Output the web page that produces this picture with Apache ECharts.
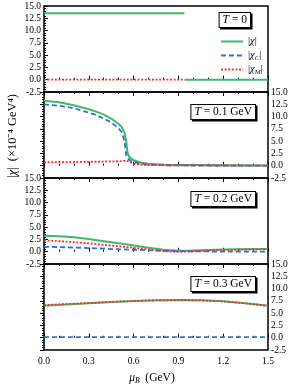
<!DOCTYPE html>
<html><head><meta charset="utf-8">
<script src="https://cdn.jsdelivr.net/npm/echarts@6/dist/echarts.min.js"></script>
<style>html,body{margin:0;padding:0;background:#fff}#c{width:291px;height:387px}</style>
</head><body><div id="c"></div>
<script>
// ---- data ----
var panelLabels = ['0', '0.1 GeV', '0.2 GeV', '0.3 GeV'];
var xTicks = [0, 0.3, 0.6, 0.9, 1.2, 1.5];
var yTicks = [-2.5, 0, 2.5, 5, 7.5, 10, 12.5, 15];

var muT0   = [0, 0.94, 0.94, 0.94, 1.5];
var chiT0  = [13.5, 13.5, null, 0, 0];
var muT0M  = [0, 0.94];
var chiMT0 = [0, 0];

var mu1   = [0, 0.1, 0.2, 0.3, 0.35, 0.4, 0.45, 0.5, 0.52, 0.54, 0.55, 0.56, 0.57, 0.58, 0.6, 0.65, 0.7, 0.8, 0.9, 1.0, 1.2, 1.5];
var chi1  = [13.2, 12.9, 12.3, 11.5, 11.0, 10.4, 9.6, 8.5, 7.9, 6.6, 5.0, 2.6, 1.8, 1.5, 1.1, 0.6, 0.38, 0.22, 0.15, 0.12, 0.08, 0.05];
var chiC1 = [12.5, 12.2, 11.7, 10.8, 10.3, 9.6, 8.8, 7.6, 6.8, 5.0, 2.2, 1.5, 1.2, 1.0, 0.75, 0.4, 0.22, 0.1, 0.06, 0.04, 0.02, 0.01];
var chiM1 = [0.7, 0.72, 0.75, 0.8, 0.82, 0.85, 0.88, 0.92, 0.95, 0.98, 1.0, 0.95, 0.8, 0.65, 0.4, 0.2, 0.15, 0.1, 0.08, 0.06, 0.04, 0.03];

var mu2   = [0, 0.1, 0.2, 0.3, 0.4, 0.5, 0.6, 0.7, 0.8, 0.9, 1.0, 1.1, 1.2, 1.3, 1.4, 1.5];
var chi2  = [3.25, 3.15, 2.95, 2.6, 2.15, 1.7, 1.25, 0.8, 0.4, 0.2, 0.25, 0.35, 0.45, 0.5, 0.55, 0.55];
var chiC2 = [1.0, 0.95, 0.85, 0.75, 0.62, 0.5, 0.4, 0.3, 0.2, 0.12, 0.08, 0.05, 0.03, 0.02, 0.01, 0.0];
var chiM2 = [2.3, 2.15, 1.95, 1.7, 1.4, 1.1, 0.8, 0.45, 0.1, -0.05, 0.1, 0.25, 0.35, 0.4, 0.45, 0.5];

var mu3   = [0, 0.15, 0.3, 0.45, 0.6, 0.75, 0.9, 1.05, 1.2, 1.35, 1.5];
var chi3  = [6.5, 6.75, 7.0, 7.25, 7.45, 7.6, 7.65, 7.6, 7.4, 7.0, 6.5];
var chiC3 = [0.1, 0.1, 0.1, 0.1, 0.1, 0.1, 0.1, 0.1, 0.1, 0.1, 0.1];
var chiM3 = [6.65, 6.85, 7.05, 7.28, 7.47, 7.6, 7.65, 7.6, 7.4, 7.0, 6.5];

// ---- chart ----
var FONT = 'Liberation Serif';
var GREEN = '#3dba6a', BLUE = '#2f6fdc', RED = '#ff2a2a';
var tops = [6, 92, 178, 264], H = 86, L = 44, R = 23;

function pairs(xs, ys) { return xs.map(function (x, i) { return [x, ys[i] === null ? '-' : ys[i]]; }); }

var grids = [], xAxes = [], yAxes = [], series = [], graphics = [];
for (var i = 0; i < 4; i++) {
  grids.push({ left: L, right: R, top: tops[i], height: H, show: true, borderColor: '#000', borderWidth: 1.5, backgroundColor: 'transparent', containLabel: false });
  xAxes.push({
    type: 'value', gridIndex: i, min: 0, max: 1.5, interval: 0.3, position: 'bottom',
    axisLine: { show: false },
    axisTick: { show: true, inside: true, length: 4, lineStyle: { color: '#000', width: 1 } },
    minorTick: { show: true, splitNumber: 3, length: 2, lineStyle: { color: '#000', width: 1 } },
    splitLine: { show: false },
    axisLabel: { show: i === 3, color: '#000', fontFamily: FONT, fontSize: 9.5, margin: 6,
      formatter: function (v) { return v.toFixed(1); } }
  });
  yAxes.push({
    type: 'value', gridIndex: i, min: yTicks[0], max: yTicks[yTicks.length - 1], interval: 2.5,
    position: (i % 2 === 0) ? 'left' : 'right',
    axisLine: { show: false },
    axisTick: { show: true, inside: true, length: 4, lineStyle: { color: '#000', width: 1 } },
    minorTick: { show: true, splitNumber: 5, length: 2, lineStyle: { color: '#000', width: 1 } },
    splitLine: { show: false },
    axisLabel: { color: '#000', fontFamily: FONT, fontSize: 9.5, margin: 3,
      formatter: function (v) { return v.toFixed(1); } }
  });
}
// top tick axes for panels 2-4
for (var j = 1; j < 4; j++) {
  xAxes.push({
    type: 'value', gridIndex: j, min: 0, max: 1.5, interval: 0.3, position: 'top',
    axisLine: { show: false },
    axisTick: { show: true, inside: true, length: 4, lineStyle: { color: '#000', width: 1 } },
    minorTick: { show: true, splitNumber: 3, length: 2, lineStyle: { color: '#000', width: 1 } },
    splitLine: { show: false }, axisLabel: { show: false }
  });
}

var names = ['|χ|', '|χC|', '|χM|'];
function mk(name, idx, data, kind, z) {
  var ls = kind === 0 ? { color: GREEN, width: 2, type: 'solid' }
         : kind === 1 ? { color: BLUE, width: 1.8, type: [5, 3] }
         : { color: RED, width: 1.8, type: [2, 1.6] };
  return { name: name, type: 'line', xAxisIndex: idx, yAxisIndex: idx, data: data, showSymbol: false, symbol: 'none',
    lineStyle: ls, itemStyle: { color: ls.color }, z: z, animation: false, connectNulls: false };
}
// panel 1 (T=0)
series.push(mk(names[0], 0, pairs(muT0, chiT0), 0, 3));
series.push(mk(names[1], 0, [], 1, 1));
series.push(mk(names[2], 0, pairs(muT0M, chiMT0), 2, 2));
// panels 2-4
var sets = [[mu1, chi1, chiC1, chiM1], [mu2, chi2, chiC2, chiM2], [mu3, chi3, chiC3, chiM3]];
sets.forEach(function (s, k) {
  series.push(mk(names[0], k + 1, pairs(s[0], s[1]), 0, 2));
  series.push(mk(names[1], k + 1, pairs(s[0], s[2]), 1, 3));
  series.push(mk(names[2], k + 1, pairs(s[0], s[3]), 2, 4));
});

// boxed temperature labels
var boxY = [13, 105, 192, 277];
var boxX = [250, 255, 255, 255];
for (var b = 0; b < 4; b++) {
  graphics.push({
    type: 'text', x: boxX[b], y: boxY[b], z: 50,
    style: {
      text: '{i|T} = ' + panelLabels[b],
      rich: { i: { fontStyle: 'italic', fontFamily: FONT, fontSize: 11.5, fill: '#000' } },
      font: '11.5px "Liberation Serif"', fill: '#000', align: 'right', verticalAlign: 'top',
      backgroundColor: '#fff', borderColor: '#000', borderWidth: 1, padding: [1, 3, 1, 3],
      shadowColor: '#000', shadowOffsetX: 1.5, shadowOffsetY: 1.5, shadowBlur: 0
    }
  });
}
// y-axis title
graphics.push({
  type: 'text', x: 13, y: 136, rotation: Math.PI / 2, z: 50,
  style: {
    text: '|{i|χ}|  (×10⁻⁴ GeV⁴)',
    rich: { i: { fontStyle: 'italic', fontFamily: FONT, fontSize: 12.5, fill: '#000' } },
    font: '12.5px "Liberation Serif"', fill: '#000', align: 'center', verticalAlign: 'middle'
  }
});
// x-axis title
graphics.push({
  type: 'text', x: 152, y: 378, z: 50,
  style: {
    text: '{i|μ}{s|B}{n|  (GeV)}',
    rich: {
      i: { fontStyle: 'italic', fontFamily: FONT, fontSize: 11.5, fill: '#000', lineHeight: 15, verticalAlign: 'middle' },
      s: { fontStyle: 'italic', fontFamily: FONT, fontSize: 7.5, fill: '#000', lineHeight: 15, verticalAlign: 'bottom' },
      n: { fontFamily: FONT, fontSize: 11.5, fill: '#000', lineHeight: 15, verticalAlign: 'middle' }
    },
    align: 'center', verticalAlign: 'middle'
  }
});

var chart = echarts.init(document.getElementById('c'), null, { renderer: 'canvas' });
chart.setOption({
  animation: false,
  backgroundColor: '#fff',
  grid: grids, xAxis: xAxes, yAxis: yAxes, series: series,
  legend: {
    data: names, orient: 'vertical', left: 220, top: 35, itemWidth: 22, itemHeight: 8, itemGap: 1, padding: 0,
    selectedMode: false,
    itemStyle: { color: 'rgba(0,0,0,0)', borderColor: 'rgba(0,0,0,0)', borderWidth: 0, opacity: 0 },
    textStyle: { fontFamily: FONT, fontSize: 10.5, color: '#000', lineHeight: 13,
      rich: {
        i: { fontStyle: 'italic', fontFamily: FONT, fontSize: 10.5, color: '#000', lineHeight: 13 },
        s: { fontStyle: 'italic', fontFamily: FONT, fontSize: 7, color: '#000', verticalAlign: 'bottom', lineHeight: 13 }
      }
    },
    formatter: function (n) {
      if (n === '|χ|') return '|{i|χ}|';
      if (n === '|χC|') return '|{i|χ}{s|C}|';
      return '|{i|χ}{s|M}|';
    }
  },
  graphic: graphics
});
</script></body></html>
